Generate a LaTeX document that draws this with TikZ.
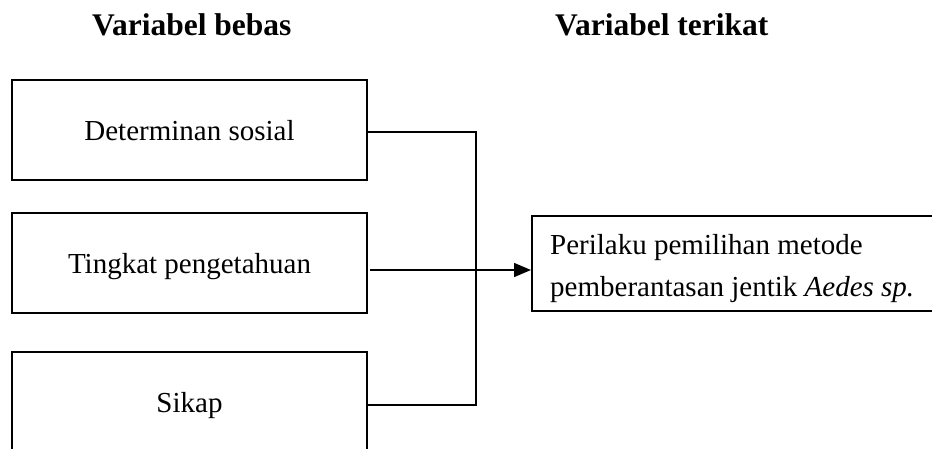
\documentclass[tikz,border=0pt]{standalone}
\usepackage{fontspec}
\setmainfont{Liberation Serif}
\usetikzlibrary{arrows.meta}
\begin{document}
\begin{tikzpicture}[x=1pt,y=-1pt,
  box/.style={draw, line width=1.5pt, minimum width=355pt, minimum height=100pt, inner sep=0pt,
    text height=20pt, text depth=0pt, font=\fontsize{29}{34}\selectfont},
  head/.style={anchor=base west, inner sep=0pt, font=\fontsize{31.5}{36}\selectfont\bfseries},
  conn/.style={line width=1.5pt}]
\useasboundingbox (0,0) rectangle (932,448);
\clip (0,0) rectangle (932,448);
\node[head] (h1) at (92,35) {Variabel bebas};
\node[head] (h2) at (555,35) {Variabel terikat};
\node[box] (b1) at (189.5,130) {Determinan sosial};
\node[box] (b2) at (189.5,263) {Tingkat pengetahuan};
\node[box] (b3) at (189.5,402) {Sikap};
\node[draw, line width=1.5pt, minimum width=410pt, minimum height=95pt, inner sep=0pt, anchor=north west] (b4) at (531,215) {};
\node[anchor=north west, inner sep=0pt, align=left, font=\fontsize{29}{42}\selectfont] (t4) at (550,234)
  {Perilaku pemilihan metode\\pemberantasan jentik \textit{Aedes sp.}};
\coordinate (j1) at (476,132);
\coordinate (j3) at (476,405);
\draw[conn] (b1.east |- j1) -- (j1) -- (j3) -- (b3.east |- j3);
\coordinate (m1) at (370,270);
\draw[conn, -{Triangle[length=17pt,width=14pt]}] (m1) -- (b4.west |- m1);
\end{tikzpicture}
\end{document}
